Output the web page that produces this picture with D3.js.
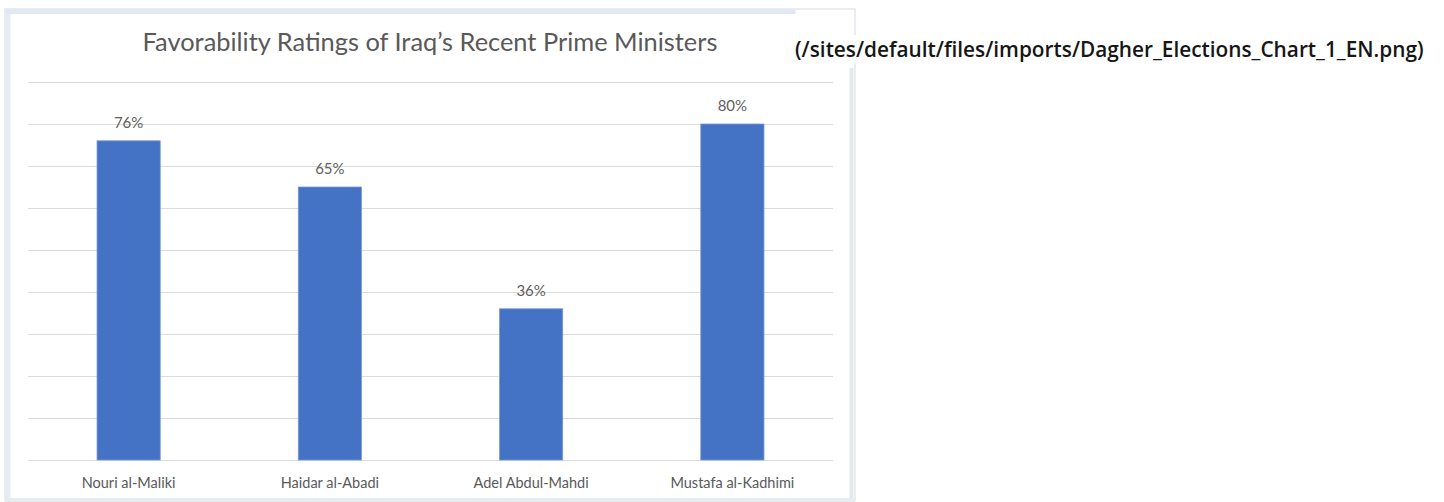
<!DOCTYPE html>
<html>
<head>
<meta charset="utf-8">
<script src="https://cdn.jsdelivr.net/npm/d3@7"></script>
<style>
  html, body { margin: 0; padding: 0; background: #fff; }
  svg { display: block; }
</style>
</head>
<body>
<svg id="chart" width="1444" height="502"></svg>
<script>
// Favorability of Iraq's recent prime ministers (percent favorable)
const ministers = ["Nouri al-Maliki", "Haidar al-Abadi", "Adel Abdul-Mahdi", "Mustafa al-Kadhimi"];
const favorability = [76, 65, 36, 80];
const gridTicks = [0, 10, 20, 30, 40, 50, 60, 70, 80, 90];
const chartTitle = "Favorability Ratings of Iraq\u2019s Recent Prime Ministers";
const imagePath = "(/sites/default/files/imports/Dagher_Elections_Chart_1_EN.png)";

const svg = d3.select("#chart");
const font = "Lato, 'Open Sans', sans-serif";
const textGray = "#595959";

// Fit a text element's font size so that it spans the given width
function fitWidth(sel, width) {
  const fs = +sel.attr("font-size");
  const w = sel.node().getComputedTextLength();
  sel.attr("font-size", (fs * width / w).toFixed(2));
}

// Frame around the chart picture
const frame = svg.append("g");
frame.append("rect").attr("x", 5).attr("y", 9).attr("width", 850).attr("height", 492)
  .attr("fill", "#ffffff").attr("stroke", "#d3dbe3").attr("stroke-width", 1);
frame.append("rect").attr("x", 5.5).attr("y", 9.5).attr("width", 5).attr("height", 490)
  .attr("fill", "#e6ecf2");
frame.append("rect").attr("x", 5.5).attr("y", 9.5).attr("width", 790).attr("height", 4.5)
  .attr("fill", "#e2e8ef");
frame.append("rect").attr("x", 849.5).attr("y", 68).attr("width", 4).attr("height", 432)
  .attr("fill", "#e4e9ef");
frame.append("rect").attr("x", 5.5).attr("y", 498).attr("width", 849).attr("height", 2.5)
  .attr("fill", "#e6ebf0");

// Scales
const x = d3.scaleBand().domain(ministers).range([28, 833])
  .paddingInner(0.686).paddingOuter(0.343);
const y = d3.scaleLinear().domain([0, 90]).range([460, 82]);

// Horizontal gridlines
svg.append("g")
  .attr("transform", "translate(28,0)")
  .call(d3.axisLeft(y).tickValues(gridTicks).tickSize(-(833 - 28)).tickFormat(""))
  .call(g => g.select(".domain").remove())
  .call(g => g.selectAll(".tick line").attr("stroke", "#dcdcdc").attr("stroke-width", 1.2));

// Bars
svg.append("g").selectAll("rect")
  .data(favorability)
  .join("rect")
  .attr("x", (d, i) => x(ministers[i]))
  .attr("y", d => y(d))
  .attr("width", x.bandwidth())
  .attr("height", d => y(0) - y(d))
  .attr("fill", "#4472c4")
  .attr("stroke", "#7b9ad6")
  .attr("stroke-width", 0.8);

// Value labels
svg.append("g").selectAll("text")
  .data(favorability)
  .join("text")
  .attr("x", (d, i) => x(ministers[i]) + x.bandwidth() / 2)
  .attr("y", d => y(d) - 13)
  .attr("text-anchor", "middle")
  .attr("font-family", font)
  .attr("font-size", 15)
  .attr("fill", "#606060")
  .text(d => d + "%");

// Category axis labels
svg.append("g")
  .attr("transform", "translate(0,460)")
  .call(d3.axisBottom(x).tickSize(0).tickPadding(18))
  .call(g => g.select(".domain").remove())
  .call(g => g.selectAll("text")
    .attr("font-family", font).attr("font-size", 14.5).attr("fill", textGray));

// Title
const title = svg.append("text")
  .attr("x", 430).attr("y", 51)
  .attr("text-anchor", "middle")
  .attr("font-family", font)
  .attr("font-size", 23)
  .attr("fill", textGray)
  .text(chartTitle);
fitWidth(title, 575);

// Image path caption
const capBg = svg.append("rect").attr("fill", "#fff");
const cap = svg.append("text")
  .attr("x", 795).attr("y", 57)
  .attr("font-family", "'Open Sans', 'Noto Sans', sans-serif")
  .attr("font-weight", 600)
  .attr("font-size", 18)
  .attr("fill", "#161616")
  .text(imagePath);
fitWidth(cap, 629);
const bb = cap.node().getBBox();
capBg.attr("x", bb.x).attr("y", bb.y).attr("width", bb.width).attr("height", bb.height);
</script>
</body>
</html>
